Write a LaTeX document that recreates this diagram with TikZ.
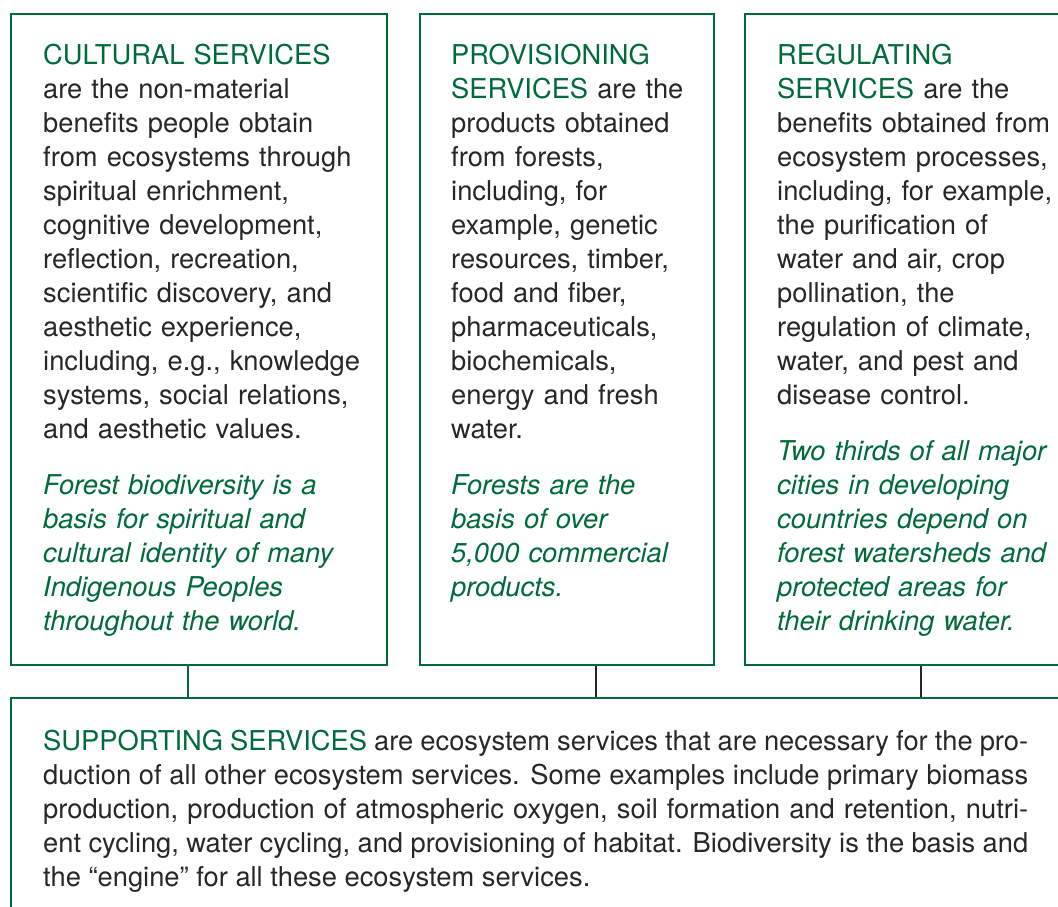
\documentclass[tikz,border=0pt]{standalone}
\usepackage{fontspec}
\setmainfont{TeX Gyre Heros}
\usetikzlibrary{positioning}
\definecolor{forest}{RGB}{0,107,58}
\definecolor{ink}{RGB}{40,38,38}
\newcommand{\svc}[1]{\textcolor{forest}{#1}}
\tikzset{
  svcbox/.style={draw=forest, line width=2pt, rectangle, inner sep=0pt, anchor=north west},
  svctext/.style={font=\fontsize{27.3}{34}\selectfont, text=ink, align=left, text width=340pt, inner sep=0pt, anchor=base west},
  svcnote/.style={svctext, text=forest, font=\fontsize{27.3}{34}\selectfont\itshape},
  link/.style={line width=2pt},
}
\begin{document}
\begin{tikzpicture}[x=1pt, y=-1pt]
    \clip (0,0) rectangle (1058,907);
    \fill[white] (0,0) rectangle (1058,907);

    % Cultural services
    \node[svcbox, minimum width=376pt, minimum height=651pt] (cultural) at (10,13) {};
    \node[svctext] (cultural-body) at (43,65) {\svc{CULTURAL SERVICES}\\
        are the non-material\\ benefits people obtain\\ from ecosystems through\\
        spiritual enrichment,\\ cognitive development,\\ reflection, recreation,\\
        scientific discovery, and\\ aesthetic experience,\\ including, e.g., knowledge\\
        systems, social relations,\\ and aesthetic values.};
    \node[svcnote] (cultural-note) at (43,494) {Forest biodiversity is a\\
        basis for spiritual and\\ cultural identity of many\\ Indigenous Peoples\\
        throughout the world.};

    % Provisioning services
    \node[svcbox, minimum width=294pt, minimum height=651pt] (provisioning) at (419,13) {};
    \node[svctext, text width=260pt] (provisioning-body) at (451,65) {\svc{PROVISIONING}\\
        \svc{SERVICES} are the\\ products obtained\\ from forests,\\ including, for\\
        example, genetic\\ resources, timber,\\ food and fiber,\\ pharmaceuticals,\\
        biochemicals,\\ energy and fresh\\ water.};
    \node[svcnote, text width=260pt] (provisioning-note) at (451,494) {Forests are the\\
        basis of over\\ 5,000 commercial\\ products.};

    % Regulating services
    \node[svcbox, minimum width=350pt, minimum height=651pt] (regulating) at (744,13) {};
    \node[svctext, text width=300pt] (regulating-body) at (777,65) {\svc{REGULATING}\\
        \svc{SERVICES} are the\\ benefits obtained from\\ ecosystem processes,\\
        including, for example,\\ the purification of\\ water and air, crop\\
        pollination, the\\ regulation of climate,\\ water, and pest and\\ disease control.};
    \node[svcnote, text width=300pt] (regulating-note) at (777,460) {Two thirds of all major\\
        cities in developing\\ countries depend on\\ forest watersheds and\\
        protected areas for\\ their drinking water.};

    % Supporting services
    \node[svcbox, minimum width=1090pt, minimum height=263pt] (supporting) at (10,697) {};
    \node[svctext, text width=985pt, align=justify] (supporting-body) at (43,750)
        {\svc{SUPPORTING SERVICES} are ecosystem services that are necessary for the pro-\linebreak
        duction of all other ecosystem services. Some examples include primary biomass\linebreak
        production, production of atmospheric oxygen, soil formation and retention, nutri-\linebreak
        ent cycling, water cycling, and provisioning of habitat. Biodiversity is the basis and\linebreak
        the “engine” for all these ecosystem services.};

    % Links down to the supporting box
    \coordinate (tap1) at (188,0);
    \coordinate (tap2) at (596,0);
    \coordinate (tap3) at (921,0);
    \draw[link, forest] (cultural.south -| tap1) -- (supporting.north -| tap1);
    \draw[link, ink] (provisioning.south -| tap2) -- (supporting.north -| tap2);
    \draw[link, ink] (regulating.south -| tap3) -- (supporting.north -| tap3);
\end{tikzpicture}
\end{document}
